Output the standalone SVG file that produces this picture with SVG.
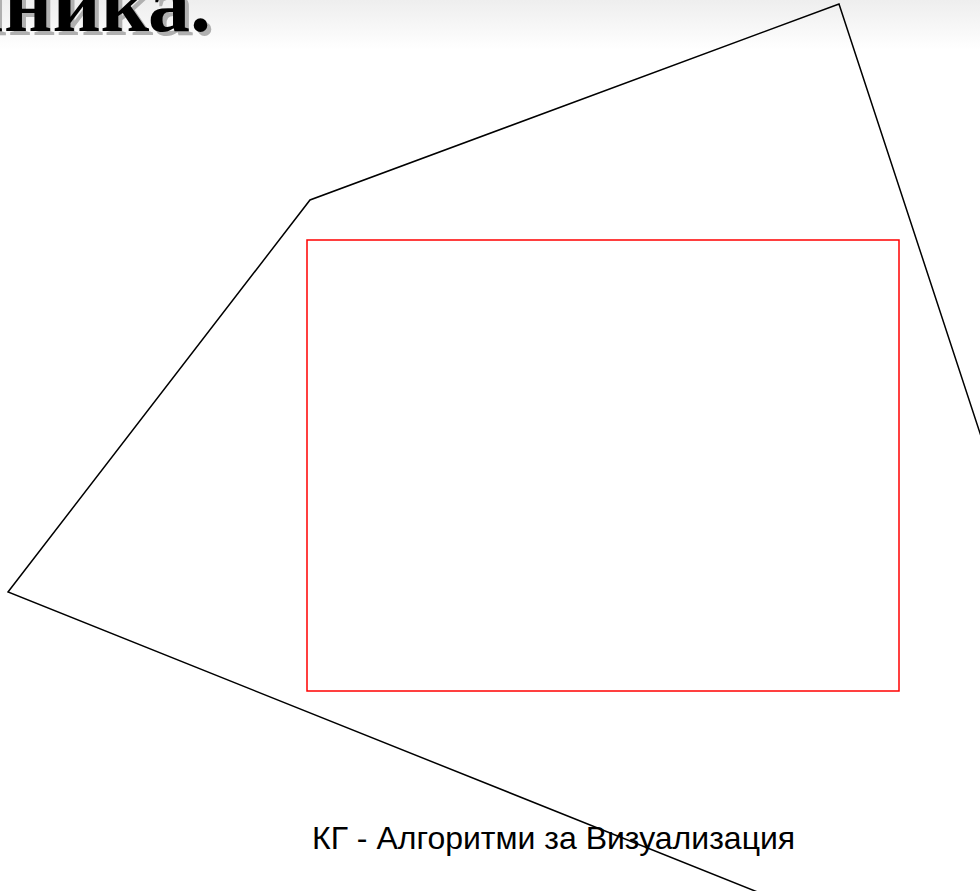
<svg xmlns="http://www.w3.org/2000/svg" width="980" height="891" viewBox="0 0 980 891">
<defs>
<linearGradient id="bg" x1="0" y1="0" x2="0" y2="1">
<stop offset="0" stop-color="#eeeeee"/>
<stop offset="1" stop-color="#ffffff"/>
</linearGradient>
</defs>
<style>
.title{font-family:"Liberation Serif",serif;font-weight:bold;font-size:84px}
.foot{font-family:"Liberation Sans",Arial,sans-serif;font-size:32px;fill:#000}
.poly{fill:none;stroke:#000;stroke-width:1.5}
.clip{fill:none;stroke:#ff0000;stroke-width:1.5}
</style>
<rect x="0" y="0" width="980" height="891" fill="#ffffff"/>
<rect x="0" y="0" width="980" height="50" fill="url(#bg)"/>
<g id="title">
<text class="title" x="215" y="35" text-anchor="end" fill="#b0b0b0">ълника.</text>
<text class="title" x="211" y="31" text-anchor="end" fill="#000">ълника.</text>
</g>
<g id="connectors">
<polyline id="polygon" class="poly" points="1002,500 839,4 310,200 8,592 800,909"/>
</g>
<g id="window">
<rect class="clip" x="307" y="240" width="592" height="451"/>
</g>
<g id="footer">
<text class="foot" x="312" y="849">КГ - Алгоритми за Визуализация</text>
</g>
</svg>
